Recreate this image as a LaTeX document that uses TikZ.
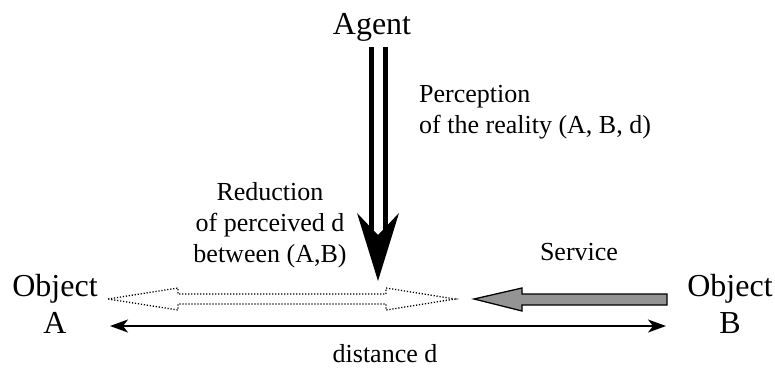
\documentclass[tikz,border=0pt]{standalone}
\usepackage{fontspec}
\setmainfont{Liberation Serif}
\usetikzlibrary{arrows.meta,positioning}

\begin{document}
\begin{tikzpicture}[
  x=1pt, y=-1pt,
  bigtext/.style={
    inner sep=0pt,
    align=center,
    font=\fontsize{32}{37}\selectfont
  },
  smalltext/.style={
    inner sep=0pt,
    font=\fontsize{26}{31}\selectfont
  },
  percline/.style={line width=5pt},
  perchead/.style={fill=black},
  reducebox/.style={draw, line width=1.3pt, dash pattern=on 1.2pt off 1.8pt, line join=miter},
  servicebox/.style={draw, line width=1.3pt, fill=black!42, line join=miter},
  distarrow/.style={{Stealth[length=18pt,width=13pt,inset=5pt]}-{Stealth[length=18pt,width=13pt,inset=5pt]}, line width=1.8pt}
]
\useasboundingbox (0,0) rectangle (775,370);

\node[bigtext, anchor=base] (agent) at (372,34) {Agent};
\node[bigtext] (objA) at (55,304) {Object\\A};
\node[bigtext] (objB) at (730,304) {Object\\B};

\node[smalltext, align=left, anchor=west] (perception) at (419,112) {Perception\\of the reality (A, B, d)};
\node[smalltext, align=center] (reduction) at (270,225) {Reduction\\of perceived d\\between (A,B)};
\node[smalltext, anchor=base] (service) at (579,260) {Service};

% perception arrow
\coordinate (tip) at (378,281);
\draw[percline] (371,47) -- (371,232);
\draw[percline] (385,47) -- (385,232);
\fill[perchead] (357,213) -- (378,235) -- (399,213) -- (tip) -- cycle;

% reduction of d
\draw[reducebox] (108,299) -- (178,288) -- (178,294) -- (386,294) -- (386,288)
  -- (455,299) -- (386,310) -- (386,304) -- (178,304) -- (178,310) -- cycle;

% service
\draw[servicebox] (474,299) -- (522,288) -- (522,294) -- (667,294)
  -- (667,305) -- (522,305) -- (522,311) -- cycle;

% distance
\coordinate (dA) at (110,326);
\coordinate (dB) at (666,326);
\draw[distarrow] (dA) -- (dB);
\node[smalltext, anchor=base] (dist) at (385,362) {distance d};
\end{tikzpicture}
\end{document}
